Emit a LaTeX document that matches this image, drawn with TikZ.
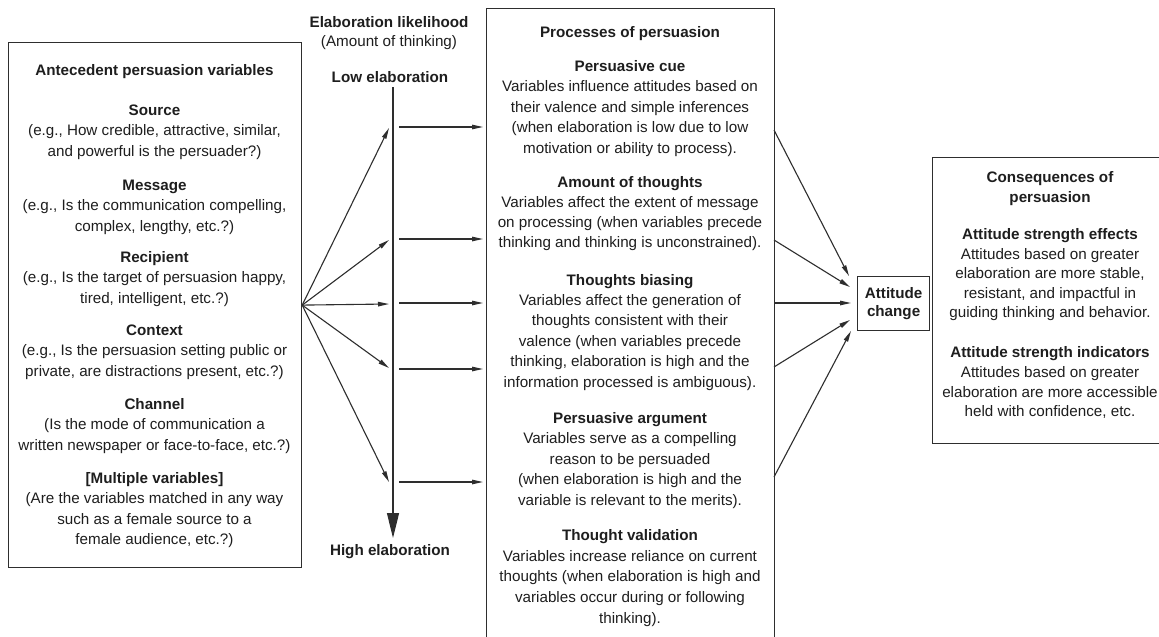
\documentclass[tikz,border=0pt]{standalone}
\usepackage{fontspec}
\setmainfont{Liberation Sans}
\usetikzlibrary{arrows.meta}
\definecolor{ink}{HTML}{1E1E1E}
\definecolor{ln}{HTML}{2E2E2E}
\begin{document}
\begin{tikzpicture}[x=1pt, y=-1pt,
  txt/.style={anchor=north, align=center, inner sep=0pt, text=ink, font=\fontsize{15.2}{20.5}\selectfont},
  boxed/.style={draw=ln, line width=1.2pt, inner sep=0pt},
  arr/.style={draw=ln, line width=1.1pt, -{Triangle[length=11pt,width=4.5pt]}},
  bigarr/.style={draw=ln, line width=1.2pt, -{Triangle[length=25pt,width=12pt]}}]
\path[use as bounding box] (0,0) rectangle (1159,637);
\clip (0,0) rectangle (1159,637);
\fill[white] (0,0) rectangle (1159,637);

% boxes
\node[boxed, anchor=north west, minimum width=293pt, minimum height=525pt] (ante) at (8,42) {};
\node[boxed, anchor=north west, minimum width=288pt, minimum height=660pt] (proc) at (486,8) {};
\node[boxed, anchor=north west, minimum width=72pt, minimum height=54pt, align=center,
      font=\fontsize{15.2}{18.5}\selectfont\bfseries, text=ink] (att) at (857,276) {Attitude\\change};
\node[boxed, anchor=north west, minimum width=250pt, minimum height=286pt] (cons) at (932,157) {};

% left box text
\node[txt] (anteT) at (154.5,60.7) {\strut\textbf{Antecedent persuasion variables}};
\node[txt] (src) at (154.5,100.7) {\strut\textbf{Source}\\(e.g., How credible, attractive, similar,\\and powerful is the persuader?)};
\node[txt] (msg) at (154.5,175.7) {\strut\textbf{Message}\\(e.g., Is the communication compelling,\\complex, lengthy, etc.?)};
\node[txt] (rec) at (154.5,247.7) {\strut\textbf{Recipient}\\(e.g., Is the target of persuasion happy,\\tired, intelligent, etc.?)};
\node[txt] (ctx) at (154.5,320.7) {\strut\textbf{Context}\\(e.g., Is the persuasion setting public or\\private, are distractions present, etc.?)};
\node[txt] (chn) at (154.5,394.7) {\strut\textbf{Channel}\\(Is the mode of communication a\\written newspaper or face-to-face, etc.?)};
\node[txt] (mul) at (154.5,468.7) {\strut\textbf{[Multiple variables]}\\(Are the variables matched in any way\\such as a female source to a\\female audience, etc.?)};

% elaboration axis labels
\node[txt, font=\fontsize{15.2}{19}\selectfont] (elab) at (389,13.7) {\strut\textbf{Elaboration likelihood}\\(Amount of thinking)};
\node[txt] (low) at (390,67.7) {\strut\textbf{Low elaboration}};
\node[txt] (high) at (390,540.7) {\strut\textbf{High elaboration}};

% middle box text
\node[txt] (procT) at (630,22.7) {\strut\textbf{Processes of persuasion}};
\node[txt] (cue) at (630,56.7) {\strut\textbf{Persuasive cue}\\Variables influence attitudes based on\\their valence and simple inferences\\(when elaboration is low due to low\\motivation or ability to process).};
\node[txt, font=\fontsize{15.2}{20}\selectfont] (amt) at (630,173.7) {\strut\textbf{Amount of thoughts}\\Variables affect the extent of message\\on processing (when variables precede\\thinking and thinking is unconstrained).};
\node[txt, font=\fontsize{15.2}{20.4}\selectfont] (bias) at (630,270.7) {\strut\textbf{Thoughts biasing}\\Variables affect the generation of\\thoughts consistent with their\\valence (when variables precede\\thinking, elaboration is high and the\\information processed is ambiguous).};
\node[txt] (arg) at (630,408.7) {\strut\textbf{Persuasive argument}\\Variables serve as a compelling\\reason to be persuaded\\(when elaboration is high and the\\variable is relevant to the merits).};
\node[txt, font=\fontsize{15.2}{20.75}\selectfont] (val) at (630,525.7) {\strut\textbf{Thought validation}\\Variables increase reliance on current\\thoughts (when elaboration is high and\\variables occur during or following\\thinking).};

% consequences text
\node[txt, font=\fontsize{15.2}{20}\selectfont] (consT) at (1050,168.7) {\strut\textbf{Consequences of}\\\textbf{persuasion}};
\node[txt, font=\fontsize{15.2}{19.5}\selectfont] (eff) at (1050,225.7) {\strut\textbf{Attitude strength effects}\\Attitudes based on greater\\elaboration are more stable,\\resistant, and impactful in\\guiding thinking and behavior.};
\node[txt, font=\fontsize{15.2}{19.7}\selectfont] (ind) at (1050,343.7) {\strut\textbf{Attitude strength indicators}\\Attitudes based on greater\\elaboration are more accessible\\held with confidence, etc.};

% vertical elaboration axis
\coordinate (vtop) at (393,87);
\coordinate (vbot) at (393,538);
\draw[bigarr] (vtop) -- (vbot);

% fan from antecedents to the axis
\foreach \yy [count=\i] in {128,240,304,368,482} {
  \coordinate (f\i) at (389,\yy);
  \draw[arr] (ante.east) -- (f\i);
}
% arrows from axis to processes
\foreach \yy [count=\i] in {127,239,303,369,482} {
  \coordinate (hs\i) at (399,\yy);
  \coordinate (he\i) at (483,\yy);
  \draw[arr] (hs\i) -- (he\i);
}
% arrows from processes to attitude change
\foreach \ys/\xt/\yt [count=\i] in {130/849/276, 240/850/287, 303/851/303, 367/850/320, 477/851/331} {
  \coordinate (rs\i) at (774,\ys);
  \coordinate (rt\i) at (\xt,\yt);
  \draw[arr] (rs\i) -- (rt\i);
}
\end{tikzpicture}
\end{document}
